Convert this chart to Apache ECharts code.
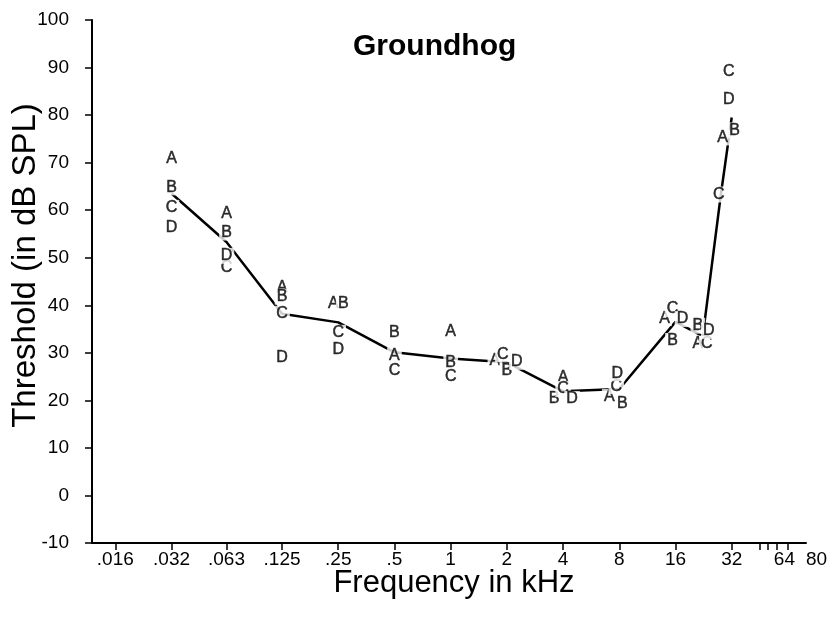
<!DOCTYPE html>
<html>
<head>
<meta charset="utf-8">
<title>Groundhog</title>
<script src="https://cdn.jsdelivr.net/npm/echarts@6/dist/echarts.min.js"></script>
<style>
    html, body { margin: 0; padding: 0; background: #fff; }
    #chart { width: 835px; height: 617px; }
</style>
</head>
<body>
<div id="chart"></div>
<script>
// frequencies tested (kHz)
var freqs = [0.032, 0.063, 0.125, 0.25, 0.5, 1, 2, 4, 8, 16, 22.4, 28, 32];
// thresholds of each animal (dB SPL), null = not shown
var animalA = [70.9, 59.3, 43.7, 40.3, 29.5, 34.5, 28.3, 24.7, 20.7, 37.3, 31.9, null, 75.3];
var animalB = [64.8, 55.3, 41.8, 40.3, 34.2, 28.0, 26.2, 20.3, 19.4, 32.5, 35.7, null, 76.8];
var animalC = [60.5, 47.9, 38.2, 34.2, 26.2, 25.0, 29.7, 22.4, 23.0, 39.2, 31.9, 63.3, 89.2];
var animalD = [56.3, 50.4, 29.1, 30.6, null, null, 28.1, 20.3, 25.7, 37.1, 34.6, null, 83.3];
// the connecting line
var lineValues = [63.5, 53.3, 38.2, 36.4, 30.1, 28.8, 28.0, 21.9, 22.4, 36.5, 33.5, 63.3, 79.5];

// axis ticks
var tickValues = [0.016, 0.032, 0.063, 0.125, 0.25, 0.5, 1, 2, 4, 8, 16, 32, 64, 80];
var tickLabels = ['.016', '.032', '.063', '.125', '.25', '.5', '1', '2', '4', '8', '16', '32', '64', '80'];
var extraTicks = [45, 50, 56];

// small sideways nudges for letters that sit on top of each other (px)
var nudge = {
    A: [0, 0, 0, -5, 0, 0, -12, 0, -10, -11, -5, 0, -9],
    B: [0, 0, 0, 5, 0, 0, 0, -9, 3, -3, -5, 0, 3],
    C: [0, 0, 0, 0, 0, 0, -4, 0, -3, -3, 4, -2, -3],
    D: [0, 0, 0, 0, 0, 0, 10, 9, -2, 7, 6, 0, -3]
};

var FONT = '"Liberation Sans", Arial, Helvetica, sans-serif';
var INK = '#000';

function letterSeries(name, values) {
    var data = [];
    for (var i = 0; i < freqs.length; i++) {
        if (values[i] == null) continue;
        data.push({
            value: [freqs[i], values[i]],
            label: { offset: [nudge[name][i], 0] }
        });
    }
    return {
        name: name,
        type: 'scatter',
        symbol: 'circle',
        symbolSize: 1,
        itemStyle: { color: 'rgba(0,0,0,0)' },
        z: 5,
        label: {
            show: true,
            position: 'inside',
            formatter: name,
            color: INK,
            fontFamily: FONT,
            fontSize: 16,
            textBorderColor: INK,
            textBorderWidth: 0.5,
            backgroundColor: '#fff',
            padding: [0, 2]
        },
        data: data
    };
}

var chart = echarts.init(document.getElementById('chart'));

var lineData = [];
for (var i = 0; i < freqs.length; i++) {
    lineData.push([freqs[i], lineValues[i]]);
}

var option = {
    animation: false,
    backgroundColor: '#fff',
    title: {
        text: 'Groundhog',
        left: 348,
        top: 27,
        textStyle: { fontFamily: FONT, fontSize: 30, fontWeight: 'bold', color: INK }
    },
    grid: { left: 92, right: 29, top: 20, bottom: 74, outerBoundsMode: 'none' },
    xAxis: {
        type: 'log',
        logBase: 2,
        min: 0.012,
        max: 80,
        name: 'Frequency in kHz',
        nameLocation: 'middle',
        nameGap: 25,
        nameMoveOverlap: false,
        nameTextStyle: { fontFamily: FONT, fontSize: 31, color: INK, padding: [0, 0, 0, 10] },
        axisLine: { onZero: false, lineStyle: { color: INK, width: 2 } },
        axisTick: {
            length: 7,
            lineStyle: { color: INK, width: 1.5 },
            customValues: tickValues.slice(0, 13).concat(extraTicks)
        },
        axisLabel: {
            customValues: tickValues,
            margin: 7,
            fontFamily: FONT,
            fontSize: 19,
            color: INK,
            alignMaxLabel: 'left',
            formatter: function (v) {
                for (var k = 0; k < tickValues.length; k++) {
                    if (Math.abs(tickValues[k] - v) < 1e-6 * Math.max(1, v)) {
                        return tickLabels[k] === '64' ? '{n|64}' : tickLabels[k];
                    }
                }
                return '';
            },
            rich: {
                n: { fontFamily: FONT, fontSize: 19, color: INK, padding: [0, 7, 0, 0] }
            }
        },
        splitLine: { show: false },
        minorTick: { show: false }
    },
    yAxis: {
        type: 'value',
        min: -10,
        max: 100,
        interval: 10,
        name: 'Threshold (in dB SPL)',
        nameLocation: 'middle',
        nameGap: 50,
        nameMoveOverlap: false,
        nameTextStyle: { fontFamily: FONT, fontSize: 33, color: INK, padding: [0, 0, 0, 32] },
        axisLine: { show: true, onZero: false, lineStyle: { color: INK, width: 2 } },
        axisTick: { show: true, length: 7, lineStyle: { color: INK, width: 1.5 } },
        axisLabel: { margin: 23, fontFamily: FONT, fontSize: 19, color: INK },
        splitLine: { show: false }
    },
    series: [
        {
            name: 'line',
            type: 'line',
            showSymbol: false,
            symbol: 'none',
            z: 2,
            lineStyle: { color: INK, width: 2.5 },
            data: lineData
        },
        letterSeries('A', animalA),
        letterSeries('B', animalB),
        letterSeries('C', animalC),
        letterSeries('D', animalD)
    ]
};

chart.setOption(option);
</script>
</body>
</html>
